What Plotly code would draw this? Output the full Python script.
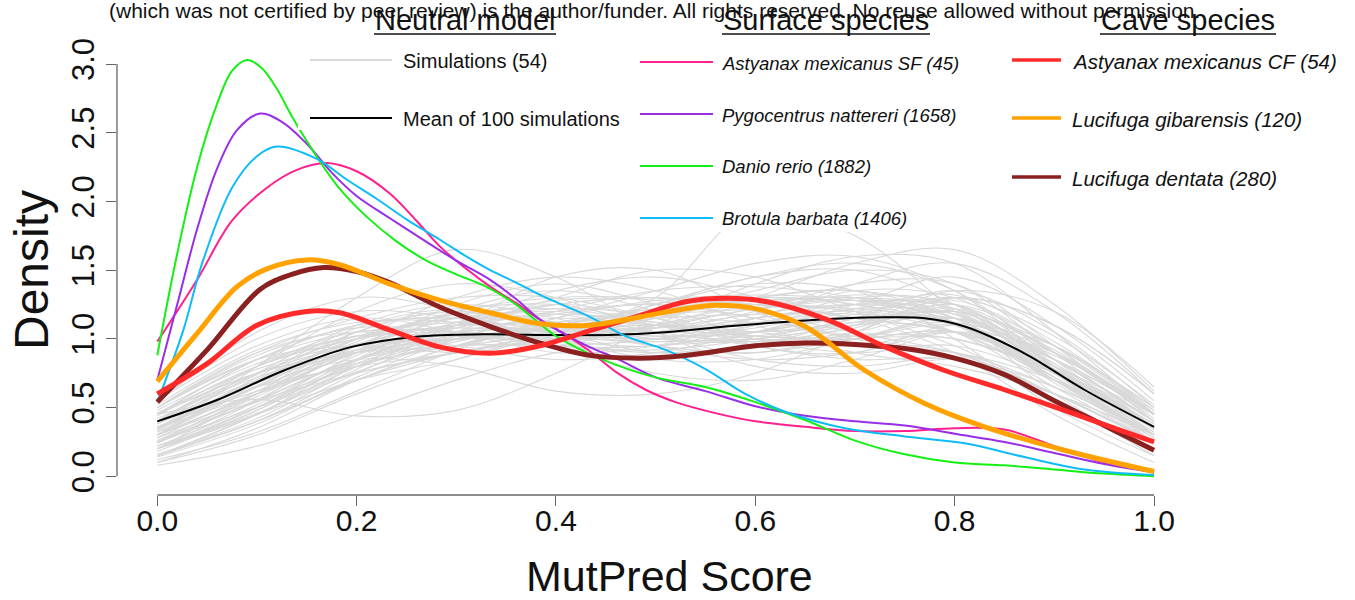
import plotly.graph_objects as go

FONT = "Liberation Sans, Arial, sans-serif"

# ---------------------------------------------------------------------------
# Data
# ---------------------------------------------------------------------------
# Density of the neutral-model simulations on a shared MutPred grid
sim_grid = [0.0, 0.1, 0.2, 0.3, 0.4, 0.5, 0.6, 0.7, 0.8, 0.9, 1.0]
sim_density = [
    [0.25, 0.55, 0.85, 1.05, 1.15, 1.10, 1.05, 1.10, 1.15, 0.85, 0.40],
    [0.45, 0.85, 1.10, 1.15, 1.00, 0.95, 1.10, 1.30, 1.25, 0.80, 0.35],
    [0.15, 0.45, 0.80, 1.00, 1.10, 1.20, 1.25, 1.20, 1.05, 0.70, 0.30],
    [0.55, 0.95, 1.15, 1.05, 0.90, 0.95, 1.15, 1.35, 1.30, 0.90, 0.45],
    [0.30, 0.60, 0.90, 1.10, 1.25, 1.15, 1.00, 0.95, 1.05, 0.80, 0.40],
    [0.10, 0.35, 0.70, 0.95, 1.10, 1.20, 1.30, 1.35, 1.20, 0.75, 0.25],
    [0.40, 0.75, 0.95, 1.00, 1.05, 1.10, 1.05, 0.95, 0.90, 0.65, 0.30],
    [0.50, 0.90, 1.05, 0.95, 0.85, 0.90, 1.05, 1.25, 1.45, 1.10, 0.55],
    [0.20, 0.50, 0.90, 1.25, 1.40, 1.25, 1.00, 0.90, 0.95, 0.70, 0.30],
    [0.35, 0.70, 1.00, 1.15, 1.10, 1.00, 1.00, 1.10, 1.20, 0.85, 0.40],
    [0.45, 0.56, 0.44, 0.48, 0.75, 1.10, 1.40, 1.60, 1.55, 1.05, 0.45],
    [0.30, 0.65, 1.00, 1.30, 1.45, 1.35, 1.10, 0.90, 0.80, 0.60, 0.30],
    [0.20, 0.60, 1.05, 1.20, 1.05, 0.90, 0.95, 1.15, 1.35, 1.05, 0.50],
    [0.40, 0.80, 1.05, 1.05, 1.00, 1.05, 1.15, 1.20, 1.10, 0.75, 0.35],
    [0.15, 0.40, 0.75, 1.05, 1.30, 1.50, 1.45, 1.20, 0.95, 0.60, 0.25],
    [0.50, 0.85, 0.95, 0.90, 0.95, 1.10, 1.25, 1.30, 1.15, 0.75, 0.35],
    [0.25, 0.55, 0.85, 0.95, 0.95, 1.00, 1.15, 1.40, 1.55, 1.20, 0.60],
    [0.35, 0.75, 1.10, 1.25, 1.15, 0.95, 0.85, 0.90, 1.05, 0.85, 0.45],
    [0.10, 0.30, 0.60, 0.85, 1.05, 1.25, 1.45, 1.55, 1.35, 0.85, 0.30],
    [0.45, 0.80, 1.00, 1.10, 1.20, 1.25, 1.15, 1.00, 0.90, 0.60, 0.25],
    [0.30, 0.60, 0.90, 1.05, 1.05, 0.95, 0.90, 1.05, 1.30, 1.10, 0.60],
    [0.55, 1.00, 1.20, 1.15, 1.00, 0.85, 0.85, 1.00, 1.15, 0.85, 0.40],
    [0.20, 0.50, 0.85, 1.10, 1.25, 1.30, 1.20, 1.05, 1.00, 0.75, 0.35],
    [0.40, 0.70, 0.90, 1.00, 1.10, 1.20, 1.30, 1.25, 1.05, 0.65, 0.25],
    [0.15, 0.45, 0.85, 1.20, 1.35, 1.20, 0.95, 0.90, 1.10, 0.95, 0.45],
    [0.35, 0.65, 0.90, 1.00, 1.00, 1.05, 1.20, 1.40, 1.40, 0.95, 0.40],
    [0.50, 0.90, 1.15, 1.30, 1.30, 1.15, 0.95, 0.85, 0.85, 0.60, 0.25],
    [0.25, 0.55, 0.85, 1.00, 1.05, 1.15, 1.30, 1.35, 1.15, 0.70, 0.25],
    [0.30, 0.55, 0.75, 0.90, 1.05, 1.20, 1.25, 1.15, 1.05, 0.80, 0.45],
    [0.45, 0.85, 1.10, 1.15, 1.05, 1.00, 1.05, 1.15, 1.10, 0.70, 0.30],
    [0.20, 0.55, 0.95, 1.20, 1.25, 1.10, 0.95, 1.00, 1.15, 0.90, 0.45],
    [0.40, 0.65, 0.80, 0.90, 1.05, 1.25, 1.45, 1.50, 1.25, 0.75, 0.30],
    [0.30, 0.70, 1.05, 1.20, 1.10, 0.95, 0.90, 1.00, 1.10, 0.85, 0.45],
    [0.15, 0.40, 0.70, 0.95, 1.15, 1.35, 1.55, 1.60, 1.35, 0.80, 0.30],
    [0.50, 0.85, 1.05, 1.05, 0.95, 0.95, 1.05, 1.20, 1.25, 0.90, 0.45],
    [0.35, 0.70, 1.00, 1.15, 1.20, 1.10, 1.00, 1.00, 1.05, 0.75, 0.35],
    [0.25, 0.60, 0.95, 1.10, 1.05, 1.00, 1.10, 1.25, 1.25, 0.85, 0.40],
    [0.45, 0.75, 0.90, 0.95, 1.05, 1.20, 1.30, 1.25, 1.10, 0.70, 0.30],
    [0.20, 0.45, 0.80, 1.10, 1.35, 1.45, 1.30, 1.05, 0.90, 0.60, 0.25],
    [0.40, 0.75, 1.00, 1.05, 1.00, 1.05, 1.15, 1.25, 1.20, 0.80, 0.35],
    [0.20, 0.45, 0.70, 0.85, 1.05, 1.30, 1.95, 1.75, 1.20, 0.60, 0.20],
    [0.15, 0.40, 0.70, 0.90, 1.00, 1.10, 1.30, 1.55, 1.65, 1.25, 0.62],
    [0.30, 0.80, 1.30, 1.65, 1.45, 1.05, 0.80, 0.75, 0.85, 0.65, 0.30],
    [0.35, 0.60, 0.85, 1.10, 1.45, 1.50, 1.20, 0.95, 0.90, 0.70, 0.35],
    [0.30, 0.65, 0.85, 0.80, 0.62, 0.60, 0.75, 1.05, 1.30, 1.10, 0.60],
    [0.08, 0.22, 0.45, 0.70, 0.90, 0.95, 1.00, 1.10, 1.20, 0.95, 0.50],
    [0.55, 1.05, 1.30, 1.20, 0.95, 0.75, 0.70, 0.85, 1.05, 0.90, 0.45],
    [0.20, 0.50, 0.80, 0.95, 0.95, 0.90, 0.95, 1.10, 1.35, 1.20, 0.65],
    [0.40, 0.80, 1.20, 1.40, 1.30, 1.05, 0.85, 0.80, 0.85, 0.55, 0.15],
    [0.25, 0.50, 0.75, 0.90, 1.00, 1.15, 1.35, 1.50, 1.40, 0.90, 0.35],
    [0.30, 0.60, 0.95, 1.20, 1.30, 1.30, 1.25, 1.15, 0.90, 0.45, 0.10],
    [0.45, 0.75, 0.90, 0.95, 1.05, 1.25, 1.40, 1.35, 1.00, 0.50, 0.15],
    [0.18, 0.48, 0.82, 1.02, 1.12, 1.18, 1.22, 1.28, 1.22, 0.82, 0.38],
    [0.38, 0.68, 0.92, 1.08, 1.18, 1.12, 1.02, 1.02, 1.12, 0.88, 0.48],
    [0.28, 0.62, 0.98, 1.18, 1.12, 1.02, 1.08, 1.22, 1.18, 0.78, 0.32],
    [0.48, 0.82, 1.02, 1.02, 0.98, 1.08, 1.22, 1.28, 1.12, 0.68, 0.28],
    [0.22, 0.52, 0.88, 1.12, 1.22, 1.18, 1.12, 1.15, 1.18, 0.82, 0.36],
    [0.12, 0.32, 0.62, 0.92, 1.15, 1.28, 1.32, 1.28, 1.12, 0.72, 0.30],
    [0.33, 0.72, 1.08, 1.22, 1.12, 1.00, 0.98, 1.08, 1.25, 0.95, 0.50],
    [0.42, 0.72, 0.92, 1.02, 1.08, 1.15, 1.18, 1.18, 1.10, 0.78, 0.38],
    [0.26, 0.58, 0.90, 1.05, 1.08, 1.08, 1.12, 1.22, 1.32, 0.98, 0.48],
    [0.52, 0.92, 1.12, 1.12, 1.02, 0.98, 1.02, 1.12, 1.15, 0.80, 0.36],
    [0.16, 0.42, 0.78, 1.08, 1.25, 1.30, 1.25, 1.15, 1.05, 0.72, 0.32],
    [0.36, 0.62, 0.82, 0.95, 1.10, 1.22, 1.28, 1.30, 1.22, 0.85, 0.40],
    [0.24, 0.56, 0.92, 1.15, 1.18, 1.05, 0.98, 1.05, 1.20, 0.92, 0.45],
    [0.44, 0.80, 1.02, 1.08, 1.05, 1.08, 1.18, 1.25, 1.15, 0.72, 0.30],
    [0.14, 0.38, 0.72, 1.00, 1.20, 1.35, 1.38, 1.30, 1.12, 0.70, 0.28],
    [0.32, 0.66, 0.96, 1.10, 1.10, 1.05, 1.05, 1.12, 1.22, 0.90, 0.42],
    [0.46, 0.78, 0.96, 1.00, 1.02, 1.10, 1.22, 1.32, 1.25, 0.80, 0.34],
    [0.20, 0.48, 0.84, 1.12, 1.28, 1.28, 1.15, 1.02, 1.00, 0.76, 0.36],
    [0.38, 0.74, 1.02, 1.12, 1.08, 1.02, 1.05, 1.18, 1.28, 0.95, 0.46],
    [0.28, 0.54, 0.80, 0.98, 1.12, 1.22, 1.25, 1.22, 1.12, 0.78, 0.36],
    [0.50, 0.88, 1.08, 1.05, 0.95, 0.92, 1.00, 1.15, 1.30, 1.02, 0.52],
    [0.22, 0.46, 0.76, 1.00, 1.18, 1.26, 1.28, 1.28, 1.18, 0.78, 0.30],
    [0.34, 0.68, 1.00, 1.18, 1.22, 1.12, 1.02, 1.00, 1.05, 0.78, 0.38],
]

# Mean of the 100 simulations
mean_x = [0.0, 0.06, 0.127, 0.194, 0.26, 0.327, 0.40, 0.46, 0.513, 0.57,
          0.632, 0.69, 0.731, 0.77, 0.81, 0.87, 0.93, 1.0]
mean_y = [0.40, 0.555, 0.77, 0.94, 1.016, 1.033, 1.028, 1.03, 1.05, 1.09,
          1.125, 1.15, 1.157, 1.15, 1.09, 0.895, 0.63, 0.36]

# Surface species
amsf_x = [0.0, 0.01, 0.04, 0.075, 0.11, 0.14, 0.17, 0.2, 0.233, 0.26, 0.284,
          0.31, 0.334, 0.36, 0.384, 0.41, 0.434, 0.46, 0.49, 0.52, 0.56, 0.6,
          0.65, 0.7, 0.75, 0.8, 0.85, 0.9, 0.95, 1.0]
amsf_y = [0.98, 1.09, 1.43, 1.86, 2.10, 2.23, 2.28, 2.22, 2.06, 1.86, 1.67,
          1.51, 1.38, 1.26, 1.14, 1.03, 0.91, 0.76, 0.63, 0.54, 0.46, 0.40,
          0.36, 0.33, 0.33, 0.35, 0.34, 0.22, 0.10, 0.03]

pnat_x = [0.0, 0.02, 0.04, 0.06, 0.08, 0.103, 0.125, 0.15, 0.175, 0.2, 0.233,
          0.265, 0.3, 0.334, 0.36, 0.384, 0.41, 0.434, 0.46, 0.5, 0.55, 0.6,
          0.65, 0.7, 0.75, 0.8, 0.85, 0.9, 0.95, 1.0]
pnat_y = [0.70, 1.25, 1.80, 2.24, 2.52, 2.64, 2.58, 2.42, 2.21, 2.04, 1.88,
          1.73, 1.57, 1.43, 1.29, 1.14, 1.03, 0.94, 0.86, 0.72, 0.62, 0.51,
          0.44, 0.40, 0.37, 0.31, 0.25, 0.17, 0.09, 0.03]

drer_x = [0.0, 0.02, 0.04, 0.06, 0.075, 0.09, 0.105, 0.12, 0.135, 0.15, 0.18,
          0.21, 0.24, 0.27, 0.30, 0.33, 0.36, 0.40, 0.45, 0.50, 0.55, 0.60,
          0.65, 0.70, 0.75, 0.80, 0.85, 0.90, 0.95, 1.0]
drer_y = [0.88, 1.62, 2.25, 2.71, 2.95, 3.03, 2.97, 2.82, 2.62, 2.44, 2.12,
          1.89, 1.71, 1.57, 1.47, 1.38, 1.25, 1.02, 0.84, 0.72, 0.65, 0.54,
          0.41, 0.26, 0.16, 0.10, 0.08, 0.05, 0.02, 0.0]

bbar_x = [0.0, 0.026, 0.045, 0.075, 0.1, 0.12, 0.16, 0.19, 0.22, 0.25, 0.284,
          0.31, 0.334, 0.36, 0.39, 0.434, 0.47, 0.51, 0.55, 0.59, 0.63, 0.69,
          0.75, 0.81, 0.87, 0.93, 1.0]
bbar_y = [0.54, 1.06, 1.55, 2.10, 2.33, 2.40, 2.31, 2.16, 2.02, 1.87, 1.72,
          1.60, 1.50, 1.41, 1.30, 1.16, 1.02, 0.92, 0.78, 0.60, 0.47, 0.35,
          0.29, 0.24, 0.14, 0.05, 0.01]

# Cave species
amcf_x = [0.0, 0.05, 0.1, 0.15, 0.183, 0.233, 0.284, 0.334, 0.384, 0.434,
          0.484, 0.53, 0.572, 0.612, 0.672, 0.731, 0.79, 0.85, 0.91, 0.96, 1.0]
amcf_y = [0.60, 0.82, 1.10, 1.20, 1.19, 1.065, 0.94, 0.895, 0.95, 1.06,
          1.17, 1.27, 1.295, 1.27, 1.14, 0.94, 0.77, 0.63, 0.48, 0.35, 0.25]

lgib_x = [0.0, 0.04, 0.08, 0.11, 0.15, 0.183, 0.233, 0.284, 0.334, 0.384,
          0.434, 0.484, 0.53, 0.56, 0.6, 0.65, 0.71, 0.77, 0.83, 0.91, 1.0]
lgib_y = [0.69, 1.04, 1.38, 1.51, 1.575, 1.54, 1.40, 1.28, 1.19, 1.11,
          1.10, 1.16, 1.22, 1.245, 1.22, 1.09, 0.77, 0.53, 0.36, 0.19, 0.035]

lden_x = [0.0, 0.05, 0.103, 0.135, 0.167, 0.2, 0.233, 0.284, 0.334, 0.384,
          0.434, 0.484, 0.53, 0.6, 0.65, 0.7, 0.75, 0.8, 0.85, 0.9, 0.95, 1.0]
lden_y = [0.54, 0.92, 1.36, 1.47, 1.52, 1.49, 1.41, 1.23, 1.09, 0.97,
          0.88, 0.86, 0.88, 0.95, 0.97, 0.96, 0.93, 0.86, 0.74, 0.55, 0.37, 0.19]

y_ticks = [0.0, 0.5, 1.0, 1.5, 2.0, 2.5, 3.0]
x_ticks = [0.0, 0.2, 0.4, 0.6, 0.8, 1.0]

neutral_labels = ["Simulations (54)", "Mean of 100 simulations"]
surface_labels = ["Astyanax mexicanus SF (45)", "Pygocentrus nattereri (1658)",
                  "Danio rerio (1882)", "Brotula barbata (1406)"]
cave_labels = ["Astyanax mexicanus CF (54)", "Lucifuga gibarensis (120)",
               "Lucifuga dentata (280)"]

SIM_COLOR = "#d8d8d8"
surface_colors = ["#ff1f8e", "#9a2ee6", "#14f014", "#0fbcf5"]
cave_colors = ["#ff2a2a", "#ffa200", "#8b2020"]

# ---------------------------------------------------------------------------
# Page geometry (pixels)
# ---------------------------------------------------------------------------
W, H = 1355, 600
ML, MR, MT, MB = 117, 161, 0, 105
PW, PH = W - ML - MR, H - MT - MB


def fx(px):
    """pixel x -> paper x"""
    return (px - ML) / PW


def fy(py):
    """pixel y -> paper y"""
    return (H - MB - py) / PH


fig = go.Figure()

# simulation curves
for row in sim_density:
    fig.add_trace(go.Scatter(
        x=sim_grid, y=row, mode="lines", line_shape="spline",
        line=dict(color=SIM_COLOR, width=1.1), hoverinfo="skip",
        showlegend=False))

fig.add_trace(go.Scatter(x=mean_x, y=mean_y, mode="lines", line_shape="spline",
                         line=dict(color="black", width=2), showlegend=False))

surface_series = [(amsf_x, amsf_y), (pnat_x, pnat_y), (drer_x, drer_y),
                  (bbar_x, bbar_y)]
for (xs, ys), col in zip(surface_series, surface_colors):
    fig.add_trace(go.Scatter(x=xs, y=ys, mode="lines", line_shape="spline",
                             line=dict(color=col, width=2), showlegend=False))

cave_series = [(amcf_x, amcf_y), (lgib_x, lgib_y), (lden_x, lden_y)]
for idx in [2, 0, 1]:
    xs, ys = cave_series[idx]
    fig.add_trace(go.Scatter(x=xs, y=ys, mode="lines", line_shape="spline",
                             line=dict(color=cave_colors[idx], width=5),
                             showlegend=False))

shapes = []
annotations = []

# legend backgrounds
for x0, x1, y1 in [(298, 636, 130), (630, 1000, 232)]:
    shapes.append(dict(type="rect", xref="paper", yref="paper",
                       x0=fx(x0), x1=fx(x1), y0=fy(y1), y1=fy(-5),
                       fillcolor="white", line=dict(width=0), layer="above"))

# axes drawn over the tick range only
AX = "#666666"
shapes.append(dict(type="line", xref="x", yref="paper", x0=x_ticks[0],
                   x1=x_ticks[-1], y0=0, y1=0, line=dict(color=AX, width=1.3)))
shapes.append(dict(type="line", xref="paper", yref="y", x0=0, x1=0,
                   y0=y_ticks[0], y1=y_ticks[-1], line=dict(color=AX, width=1.3)))


def add_text(txt, px, py, size, anchor="left", italic=False):
    if italic:
        txt = "<i>" + txt + "</i>"
    annotations.append(dict(text=txt, xref="paper", yref="paper",
                            x=fx(px), y=fy(py), xanchor=anchor, yanchor="middle",
                            showarrow=False, borderpad=0,
                            font=dict(family=FONT, size=size, color="#111111")))


def add_seg(x0, x1, py, color, width):
    shapes.append(dict(type="line", xref="paper", yref="paper", x0=fx(x0),
                       x1=fx(x1), y0=fy(py), y1=fy(py), layer="above",
                       line=dict(color=color, width=width)))


# legend group titles with underline
for title, cx, x0, x1 in [("Neutral model", 465, 374, 556),
                          ("Surface species", 826, 722, 930),
                          ("Cave species", 1188, 1100, 1276)]:
    add_text(title, cx, 20, 29, anchor="center")
    add_seg(x0, x1, 34, "#111111", 1.5)

# neutral model entries
for lab, col, py in zip(neutral_labels, [SIM_COLOR, "black"], [60, 118]):
    add_seg(310, 392, py, col, 2)
    add_text(lab, 402, py + 1, 20)

# surface entries
for lab, col, py in zip(surface_labels, surface_colors, [62, 114, 166, 218]):
    add_seg(640, 713, py, col, 2)
    add_text(lab, 721, py + 1, 18.5, italic=True)

# cave entries
for lab, col, py in zip(cave_labels, cave_colors, [60, 118, 177]):
    add_seg(1012, 1061, py, col, 3.5)
    add_text(lab, 1071, py + 1, 20.5, italic=True)

# axis titles
add_text("MutPred Score", 670, 576, 43, anchor="center")
annotations.append(dict(text="Density", xref="paper", yref="paper",
                        x=fx(31), y=fy(270), xanchor="center", yanchor="middle",
                        textangle=-90, showarrow=False,
                        font=dict(family=FONT, size=48, color="#111111")))

# preprint notice
add_text("(which was not certified by peer review) is the author/funder. "
         "All rights reserved. No reuse allowed without permission.",
         654, 10, 21, anchor="center")

fig.update_layout(
    width=W, height=H,
    margin=dict(l=ML, r=MR, t=MT, b=MB, pad=0),
    paper_bgcolor="white", plot_bgcolor="white",
    shapes=shapes, annotations=annotations,
    showlegend=False,
    xaxis=dict(range=[-0.0404, 1.0401], tickvals=x_ticks,
               ticktext=[f"{v:.1f}" for v in x_ticks],
               ticks="outside", ticklen=10, tickwidth=1.3, tickcolor=AX,
               ticklabelstandoff=-11,
               showline=False, showgrid=False, zeroline=False,
               tickfont=dict(family=FONT, size=30, color="#111111")),
    yaxis=dict(range=[-0.136, 3.4665], tickvals=y_ticks,
               ticktext=[f"{v:.1f}" for v in y_ticks],
               ticks="outside", ticklen=10, tickwidth=1.3, tickcolor=AX,
               tickangle=-90,
               showline=False, showgrid=False, zeroline=False,
               tickfont=dict(family=FONT, size=31, color="#111111")),
)

fig.write_html("out.html")
